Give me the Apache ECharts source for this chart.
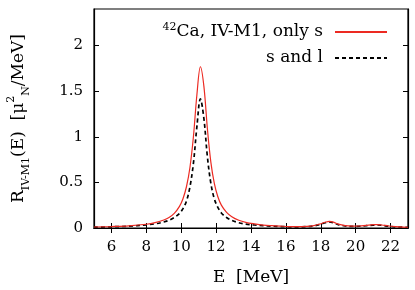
<!DOCTYPE html>
<html><head><meta charset="utf-8">
<script src="https://cdn.jsdelivr.net/npm/echarts@6/dist/echarts.min.js"></script>
<style>html,body{margin:0;padding:0;background:#fff}#c{width:415px;height:290px}</style>
</head><body><div id="c"></div>
<script>
var energies = [5,6,7,8,8.5,9,9.3,9.6,9.9,10.1,10.3,10.5,10.7,10.9,11.1,11.3,11.5,11.7,11.9,12.1,12.3,12.6,12.9,13.3,13.7,14.2,14.7,15.2,15.7,16.2,16.7,17.2,17.6,18,18.25,18.5,18.75,19,19.4,19.8,20.2,20.6,21,21.25,21.5,21.9,22.3,22.7,23];
var onlyS = [0.011,0.016,0.024,0.041,0.058,0.088,0.115,0.16,0.237,0.321,0.452,0.663,1.002,1.463,1.767,1.552,1.088,0.72,0.486,0.342,0.251,0.172,0.124,0.085,0.062,0.045,0.032,0.025,0.02,0.016,0.015,0.018,0.027,0.047,0.063,0.073,0.062,0.042,0.026,0.021,0.022,0.029,0.036,0.038,0.033,0.022,0.015,0.01,0.008];
var sAndL = [0.009,0.013,0.02,0.034,0.046,0.066,0.085,0.115,0.16,0.212,0.295,0.45,0.71,1.114,1.415,1.2,0.781,0.488,0.319,0.225,0.165,0.115,0.083,0.058,0.043,0.033,0.025,0.02,0.016,0.013,0.012,0.015,0.023,0.042,0.057,0.066,0.056,0.037,0.023,0.018,0.019,0.025,0.031,0.033,0.029,0.019,0.013,0.009,0.007];
var xTicks = [6,8,10,12,14,16,18,20,22];
var yTicks = [0,0.5,1,1.5,2];
var seriesNames = ['{sup|42}Ca, IV-M1, only s', 's and l'];

function pairs(ys){ return energies.map(function(x,i){return [x, ys[i]];}); }
var FONT = 'DejaVu Serif';
var chart = echarts.init(document.getElementById('c'), null, {renderer:'canvas'});
var tickStyle = {show:true, inside:true, length:5, lineStyle:{color:'#000', width:1}};
chart.setOption({
  animation:false,
  backgroundColor:'#fff',
  grid:{left:94, right:7, top:9, bottom:62, outerBoundsMode:'none', containLabel:false, show:true, borderColor:'#000', borderWidth:1.2, backgroundColor:'transparent'},
  legend:{
    orient:'vertical', right:22, top:17, align:'right', itemWidth:52, itemHeight:10, itemGap:6, padding:5,
    data:seriesNames,
    itemStyle:{opacity:0},
    textStyle:{fontFamily:FONT, fontSize:17, color:'#000', padding:[0,7,0,0], lineHeight:20,
      rich:{sup:{fontFamily:FONT, fontSize:11, verticalAlign:'top', lineHeight:20}}}
  },
  xAxis:[{
    type:'value', min:5, max:23,
    name:'E  [MeV]', nameLocation:'middle', nameGap:41,
    nameTextStyle:{fontFamily:FONT, fontSize:17, color:'#000'},
    axisLine:{show:true, lineStyle:{color:'#000', width:1.2}},
    axisTick:Object.assign({customValues:xTicks}, tickStyle),
    axisLabel:{customValues:xTicks, fontFamily:FONT, fontSize:15, color:'#000', margin:12},
    splitLine:{show:false}
  },{
    type:'value', min:5, max:23, position:'top',
    axisLine:{show:true, lineStyle:{color:'#000', width:1.2}},
    axisTick:Object.assign({customValues:xTicks}, tickStyle),
    axisLabel:{show:false}, splitLine:{show:false}
  }],
  yAxis:[{
    type:'value', min:0, max:2.4,
    name:'R{sub|IV-M1}(E)  [μ{sup|2}{sub|N}/MeV]', nameLocation:'middle', nameGap:62, nameRotate:90,
    nameTextStyle:{fontFamily:FONT, fontSize:17, color:'#000', lineHeight:26,
      rich:{sub:{fontFamily:FONT, fontSize:11, verticalAlign:'bottom', lineHeight:26}, sup:{fontFamily:FONT, fontSize:11, verticalAlign:'top', lineHeight:26}}},
    axisLine:{show:true, lineStyle:{color:'#000', width:1.2}},
    axisTick:Object.assign({customValues:yTicks}, tickStyle),
    axisLabel:{customValues:yTicks, fontFamily:FONT, fontSize:15, color:'#000', margin:11},
    splitLine:{show:false}
  },{
    type:'value', min:0, max:2.4, position:'right',
    axisLine:{show:true, lineStyle:{color:'#000', width:1.2}},
    axisTick:Object.assign({customValues:yTicks}, tickStyle),
    axisLabel:{show:false}, splitLine:{show:false}
  }],
  series:[{
    name:seriesNames[0], type:'line', data:pairs(onlyS), symbol:'none', smooth:0.35,
    lineStyle:{color:'#ec2a22', width:1.2}, itemStyle:{color:'#ec2a22'}, z:3
  },{
    name:seriesNames[1], type:'line', data:pairs(sAndL), symbol:'none', smooth:0.35,
    lineStyle:{color:'#000', width:1.7, type:[4,3]}, itemStyle:{color:'#000'}, z:2
  }]
});
</script></body></html>
